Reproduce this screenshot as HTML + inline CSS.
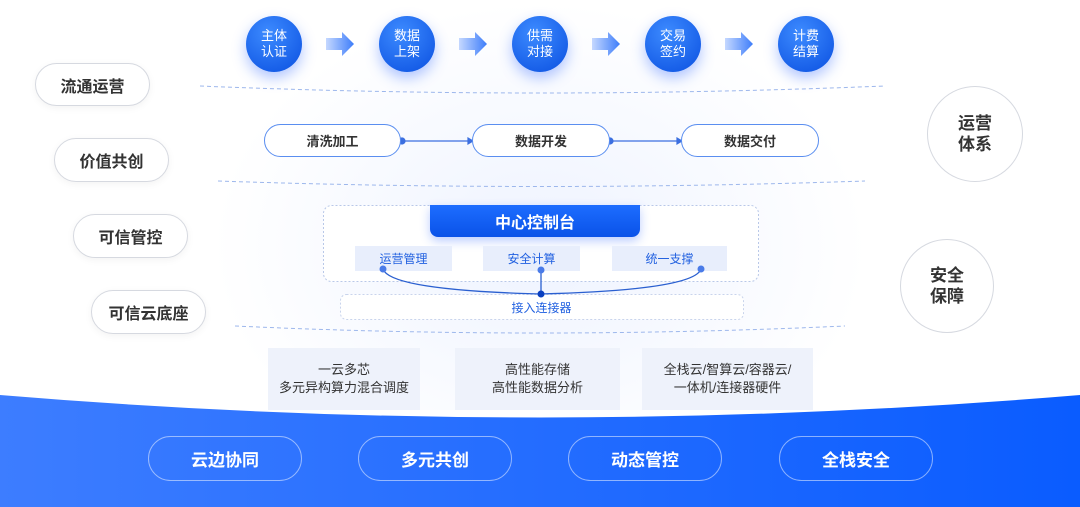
<!DOCTYPE html>
<html><head><meta charset="utf-8"><style>
*{margin:0;padding:0;box-sizing:border-box}
body{width:1080px;height:507px;overflow:hidden;background:#fff;font-family:"Liberation Sans","Noto Sans CJK SC",sans-serif;position:relative}
.a{position:absolute}
.lp{position:absolute;border:1.5px solid #d6d9e0;border-radius:24px;background:#fff;display:flex;align-items:center;justify-content:center;font-size:16px;font-weight:bold;color:#333;box-shadow:0 2px 8px rgba(0,0,0,.05)}
.rc{position:absolute;border:1.5px solid #d6d9e0;border-radius:50%;background:#fff;display:flex;align-items:center;justify-content:center;text-align:center;font-size:17px;font-weight:bold;color:#333;line-height:21px}
.tc{position:absolute;width:56px;height:56px;border-radius:50%;background:radial-gradient(circle at 40% 30%,#3d8bff,#0a4fe0);color:#fff;font-size:13px;line-height:16px;display:flex;align-items:center;justify-content:center;text-align:center;box-shadow:0 6px 14px rgba(30,90,255,.35)}
.pp{position:absolute;height:33px;border:1.5px solid #5a8ef0;border-radius:17px;background:#fff;display:flex;align-items:center;justify-content:center;font-size:13px;font-weight:bold;color:#333}
.sb{position:absolute;height:25px;background:#e8eefc;color:#2261e0;font-size:12px;display:flex;align-items:center;justify-content:center;top:246px}
.bc{position:absolute;top:348px;height:62px;background:#eef2fb;color:#333;font-size:13px;line-height:18px;display:flex;align-items:center;justify-content:center;text-align:center}
.bp{position:absolute;top:436px;height:45px;width:154px;border:1.5px solid rgba(255,255,255,.5);border-radius:23px;display:flex;align-items:center;justify-content:center;color:#fff;font-size:17px;font-weight:bold}
</style></head><body>
<div class="a" style="left:210px;top:0;width:660px;height:410px;background:radial-gradient(ellipse at 50% 60%,#eef3ff 0%,#fff 70%)"></div>
<svg class="a" style="left:0;top:0" width="1080" height="507">
<defs><linearGradient id="g" x1="0" x2="1"><stop offset="0" stop-color="#3d7dff"/><stop offset="1" stop-color="#0a5cff"/></linearGradient>
<linearGradient id="ar" x1="0" x2="1"><stop offset="0" stop-color="#c5d8ff"/><stop offset="1" stop-color="#3d7dfa"/></linearGradient></defs>
<path d="M0 395 Q540 440 1080 395 L1080 507 L0 507Z" fill="url(#g)"/>
<path d="M200 86 Q540 100 885 86" stroke="#9db7ec" stroke-dasharray="4 3" fill="none"/>
<path d="M218 181 Q540 192 865 181" stroke="#9db7ec" stroke-dasharray="4 3" fill="none"/>
<path d="M235 326 Q540 340 845 326" stroke="#9db7ec" stroke-dasharray="4 3" fill="none"/>
<g fill="url(#ar)">
<path d="M326 38h16v-6l12 12-12 12v-6h-16z"/><path d="M459 38h16v-6l12 12-12 12v-6h-16z"/>
<path d="M592 38h16v-6l12 12-12 12v-6h-16z"/><path d="M725 38h16v-6l12 12-12 12v-6h-16z"/></g>
<g stroke="#3c6fe0" stroke-width="1.2" fill="#3c6fe0">
<line x1="402" y1="141" x2="468" y2="141"/><path d="M468 138l5 3-5 3z"/><circle cx="402" cy="141" r="3"/>
<line x1="610" y1="141" x2="677" y2="141"/><path d="M677 138l5 3-5 3z"/><circle cx="610" cy="141" r="3"/></g>
<rect x="323.5" y="205.5" width="435" height="76" rx="8" fill="#fff" stroke="#b9c8e8" stroke-dasharray="2 2"/>
<rect x="340.5" y="294.5" width="403" height="25" rx="6" fill="#fff" stroke="#c9d4ec" stroke-dasharray="2 2"/>
</svg>
<div class="lp" style="left:35px;top:63px;width:115px;height:43px">流通运营</div>
<div class="lp" style="left:54px;top:138px;width:115px;height:44px">价值共创</div>
<div class="lp" style="left:73px;top:214px;width:115px;height:44px">可信管控</div>
<div class="lp" style="left:91px;top:290px;width:115px;height:44px">可信云底座</div>
<div class="rc" style="left:927px;top:86px;width:96px;height:96px">运营<br>体系</div>
<div class="rc" style="left:900px;top:239px;width:94px;height:94px">安全<br>保障</div>
<div class="tc" style="left:246px;top:16px">主体<br>认证</div>
<div class="tc" style="left:379px;top:16px">数据<br>上架</div>
<div class="tc" style="left:512px;top:16px">供需<br>对接</div>
<div class="tc" style="left:645px;top:16px">交易<br>签约</div>
<div class="tc" style="left:778px;top:16px">计费<br>结算</div>
<div class="pp" style="left:264px;top:124px;width:137px">清洗加工</div>
<div class="pp" style="left:472px;top:124px;width:138px">数据开发</div>
<div class="pp" style="left:681px;top:124px;width:138px">数据交付</div>
<div class="a" style="left:430px;top:205px;width:210px;height:32px;background:linear-gradient(#1d6dff,#0a52e8);border-radius:0 0 8px 8px;color:#fff;font-size:16px;font-weight:bold;display:flex;align-items:center;justify-content:center;box-shadow:0 4px 10px rgba(30,90,255,.3)">中心控制台</div>
<div class="sb" style="left:355px;width:97px">运营管理</div>
<div class="sb" style="left:483px;width:97px">安全计算</div>
<div class="sb" style="left:612px;width:115px">统一支撑</div>
<svg class="a" style="left:0;top:0" width="1080" height="507">
<g stroke="#2a5fd0" stroke-width="1.3" fill="none">
<path d="M383 269 Q390 290 540 294"/><path d="M493 270 L493 294" transform="translate(48 0)"/><path d="M701 269 Q694 290 540 294"/></g>
<g fill="#4a7be8"><circle cx="383" cy="269" r="3.5"/><circle cx="541" cy="270" r="3.5"/><circle cx="701" cy="269" r="3.5"/></g>
<circle cx="541" cy="294" r="3.5" fill="#0a3fc0"/>
</svg>
<div class="a" style="left:340px;top:296px;width:403px;height:23px;display:flex;align-items:center;justify-content:center;color:#2261e0;font-size:12px">接入连接器</div>
<div class="bc" style="left:268px;width:152px">一云多芯<br>多元异构算力混合调度</div>
<div class="bc" style="left:455px;width:165px">高性能存储<br>高性能数据分析</div>
<div class="bc" style="left:642px;width:171px">全栈云/智算云/容器云/<br>一体机/连接器硬件</div>
<div class="bp" style="left:148px">云边协同</div>
<div class="bp" style="left:358px">多元共创</div>
<div class="bp" style="left:568px">动态管控</div>
<div class="bp" style="left:779px">全栈安全</div>
</body></html>
